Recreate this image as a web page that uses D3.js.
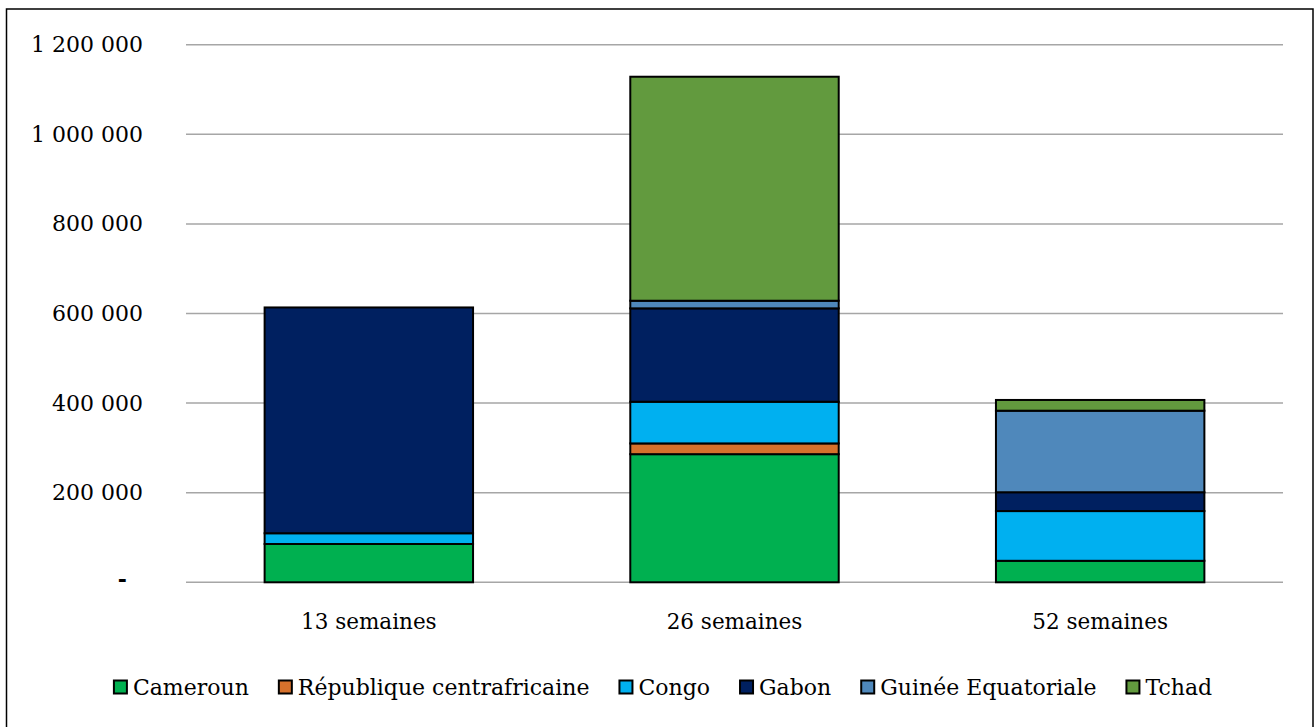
<!DOCTYPE html>
<html>
<head>
<meta charset="utf-8">
<script src="https://cdn.jsdelivr.net/npm/d3@7"></script>
<style>
  body { margin: 0; background: #fff; }
</style>
</head>
<body>
<div id="chart"></div>
<script>
// data
var categories = ["13 semaines", "26 semaines", "52 semaines"];
var seriesNames = ["Cameroun", "République centrafricaine", "Congo", "Gabon", "Guinée Equatoriale", "Tchad"];
var cameroun = [85500, 286000, 48000];
var rca      = [0, 24000, 0];
var congo    = [24000, 93000, 111000];
var gabon    = [504000, 208500, 42000];
var guinee   = [0, 17000, 182000];
var tchad    = [0, 500000, 24000];
var yTicks   = [0, 200000, 400000, 600000, 800000, 1000000, 1200000];
var colors   = ["#00b050", "#d6712c", "#00b0f0", "#002060", "#4f88bb", "#629a3e"];

var seriesValues = [cameroun, rca, congo, gabon, guinee, tchad];
var FONT = "'DejaVu Serif'";

function createStackedChart(){
    var W = 1315, H = 727;
    var plot = {left: 186, right: 1283, top: 44.7, bottom: 582.3};

    var svg = d3.select("#chart").append("svg")
        .attr("width", W)
        .attr("height", H)
        .style("font-family", FONT);

    // outer frame
    svg.append("rect")
        .attr("x", 6.5).attr("y", 9)
        .attr("width", 1306.5).attr("height", 740)
        .attr("fill", "none")
        .attr("stroke", "#000")
        .attr("stroke-width", 1.5);

    var table = categories.map(function(c, i){
        var row = {cat: c};
        seriesNames.forEach(function(s, j){ row[s] = seriesValues[j][i]; });
        return row;
    });

    var x = d3.scaleBand()
        .domain(categories)
        .range([plot.left, plot.right])
        .paddingInner(0.43)
        .paddingOuter(0.215);

    var y = d3.scaleLinear()
        .domain([0, 1200000])
        .range([plot.bottom, plot.top]);

    var loc = d3.formatLocale({decimal: ",", thousands: "\u00a0", grouping: [3], currency: ["", ""]});
    var fmt = loc.format(",.0f");

    // gridlines
    svg.append("g")
        .selectAll("line")
        .data(yTicks)
        .enter().append("line")
        .attr("x1", plot.left).attr("x2", plot.right)
        .attr("y1", function(d){ return y(d); })
        .attr("y2", function(d){ return y(d); })
        .attr("stroke", "#a6a6a6")
        .attr("stroke-width", 1.5);

    // y axis
    var yAxis = d3.axisLeft(y)
        .tickValues(yTicks)
        .tickSize(0)
        .tickPadding(43)
        .tickFormat(function(d){ return d === 0 ? "-" : fmt(d); });

    var gy = svg.append("g")
        .attr("transform", "translate(" + plot.left + ",0)")
        .call(yAxis);
    gy.select(".domain").remove();
    gy.attr("font-family", null).attr("font-size", null);
    gy.selectAll("text")
        .style("font-family", FONT)
        .style("font-size", "22px")
        .attr("fill", "#000");
    gy.selectAll(".tick").filter(function(d){ return d === 0; })
        .select("text").attr("dx", -16).attr("dy", "0.2em")
        .attr("font-weight", "bold");

    // stacked bars
    var stack = d3.stack().keys(seriesNames);
    var layers = stack(table);

    svg.append("g")
        .selectAll("g")
        .data(layers)
        .enter().append("g")
        .attr("fill", function(d, i){ return colors[i]; })
        .selectAll("rect")
        .data(function(d){ return d.filter(function(p){ return p[1] - p[0] > 0; }); })
        .enter().append("rect")
        .attr("x", function(d){ return x(d.data.cat); })
        .attr("width", x.bandwidth())
        .attr("y", function(d){ return y(d[1]); })
        .attr("height", function(d){ return y(d[0]) - y(d[1]); })
        .attr("stroke", "#000")
        .attr("stroke-width", 2);

    // category labels
    svg.append("g")
        .selectAll("text")
        .data(categories)
        .enter().append("text")
        .attr("x", function(d){ return x(d) + x.bandwidth() / 2; })
        .attr("y", 629)
        .attr("text-anchor", "middle")
        .style("font-family", FONT)
        .style("font-size", "21.5px")
        .text(function(d){ return d; });

    // legend
    var legend = svg.append("g");
    var items = legend.selectAll("g")
        .data(seriesNames)
        .enter().append("g");
    items.append("rect")
        .attr("width", 13).attr("height", 13)
        .attr("y", -6.5)
        .attr("fill", function(d, i){ return colors[i]; })
        .attr("stroke", "#000")
        .attr("stroke-width", 2);
    items.append("text")
        .attr("x", 19)
        .attr("y", 0)
        .attr("dy", "0.35em")
        .style("font-family", FONT)
        .style("font-size", "22px")
        .text(function(d){ return d; });

    var pos = 0, gap = 30;
    items.each(function(){
        var g = d3.select(this);
        var w = 19 + g.select("text").node().getComputedTextLength();
        g.attr("data-x", pos);
        pos += w + gap;
    });
    var total = pos - gap;
    var start = 663 - total / 2;
    items.attr("transform", function(){
        return "translate(" + (start + +d3.select(this).attr("data-x")) + ",687)";
    });
}

createStackedChart();
</script>
</body>
</html>
